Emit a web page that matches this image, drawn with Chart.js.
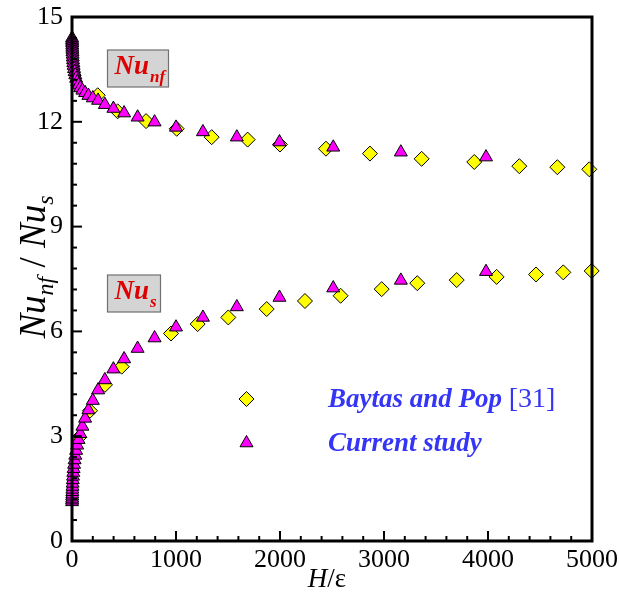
<!DOCTYPE html>
<html>
<head>
<meta charset="utf-8">
<title>Nu_nf / Nu_s vs H/ε</title>
<script src="https://cdn.jsdelivr.net/npm/chart.js@4.4.0/dist/chart.umd.min.js"></script>
<style>
  html, body { margin: 0; padding: 0; background: #ffffff; }
</style>
</head>
<body>
<canvas id="chart" width="619" height="597"></canvas>
<script>
// --- Data ---
// Current study: H/ε sampled on a log grid, both Nusselt numbers
const currentX = [1, 1.26, 1.58, 2, 2.51, 3.16, 3.98, 5.01, 6.31, 7.94, 10, 12.6, 15.8, 20, 25.1, 31.6,
  39.8, 50.1, 63.1, 79.4, 100, 126, 158, 200, 251, 316, 398, 501, 631, 794, 1000, 1259, 1585, 1995,
  2512, 3162, 3981];
const currentNuNf = [14.40, 14.35, 14.30, 14.25, 14.19, 14.13, 14.07, 14.00, 13.93, 13.85, 13.77, 13.69,
  13.61, 13.52, 13.43, 13.34, 13.24, 13.14, 13.05, 12.97, 12.90, 12.83, 12.75, 12.68, 12.61, 12.49,
  12.38, 12.25, 12.13, 11.99, 11.84, 11.71, 11.56, 11.42, 11.27, 11.13, 10.99];
const currentNuS = [1.12, 1.17, 1.22, 1.28, 1.34, 1.41, 1.48, 1.56, 1.65, 1.75, 1.85, 1.96, 2.07, 2.19,
  2.32, 2.45, 2.59, 2.74, 2.90, 3.07, 3.28, 3.51, 3.75, 4.02, 4.32, 4.61, 4.92, 5.21, 5.51, 5.81,
  6.12, 6.40, 6.70, 6.97, 7.24, 7.46, 7.71];

// Baytas and Pop [31]
const baytasNfX = [247, 439, 712, 1007, 1343, 1689, 2000, 2442, 2865, 3362, 3868, 4301, 4667, 4974];
const baytasNuNf = [12.76, 12.30, 12.02, 11.80, 11.56, 11.49, 11.35, 11.23, 11.09, 10.94, 10.85, 10.73,
  10.70, 10.64];
const baytasSX = [70, 173, 317, 478, 952, 1208, 1503, 1872, 2240, 2583, 2978, 3320, 3699, 4083, 4462,
  4724, 4997];
const baytasNuS = [2.97, 3.73, 4.47, 4.99, 5.94, 6.21, 6.40, 6.64, 6.87, 7.02, 7.21, 7.38, 7.47, 7.56,
  7.63, 7.69, 7.73];

// Axis ticks
const xTicks = [0, 1000, 2000, 3000, 4000, 5000];
const yTicks = [0, 3, 6, 9, 12, 15];
const minorPerMajor = 5;

const SERIF = '"Liberation Serif", "Times New Roman", serif';
const LABEL_BLUE = '#3535f5';
const NOTE_RED = '#dd0000';

function toPoints(xs, ys) {
  return xs.map((x, i) => ({ x: x, y: ys[i] }));
}

const triangleStyle = {
  pointStyle: 'triangle', pointRadius: 7.5, pointBackgroundColor: '#ff00ff',
  pointBorderColor: '#000000', pointBorderWidth: 1, showLine: false, clip: false, order: 0
};
const diamondStyle = {
  pointStyle: 'rectRot', pointRadius: 7.5, pointBackgroundColor: '#ffff00',
  pointBorderColor: '#000000', pointBorderWidth: 1, showLine: false, clip: false, order: 1
};

// draws a run of text pieces (for subscripts); returns total width
function drawRich(ctx, parts, x, y, measureOnly) {
  let cx = x;
  parts.forEach(p => {
    ctx.font = p.font;
    if (!measureOnly) ctx.fillText(p.text, cx, y + (p.dy || 0));
    cx += ctx.measureText(p.text).width + (p.gap || 0);
  });
  return cx - x;
}

// frame, inward ticks, axis titles, note boxes and legend
const decorations = {
  id: 'decorations',
  afterDatasetsDraw(chart) {
    const ctx = chart.ctx;
    const xs = chart.scales.x, ys = chart.scales.y;
    const a = chart.chartArea;
    ctx.save();

    // inward ticks on left and bottom
    ctx.strokeStyle = '#000';
    ctx.lineWidth = 2;
    const xStep = (xTicks[1] - xTicks[0]) / minorPerMajor;
    for (let v = xs.min; v <= xs.max + 1e-6; v += xStep) {
      const major = xTicks.some(t => Math.abs(t - v) < 1e-6);
      const px = xs.getPixelForValue(v);
      ctx.beginPath();
      ctx.moveTo(px, a.bottom);
      ctx.lineTo(px, a.bottom - (major ? 10 : 5));
      ctx.stroke();
    }
    const yStep = (yTicks[1] - yTicks[0]) / minorPerMajor;
    for (let v = ys.min; v <= ys.max + 1e-6; v += yStep) {
      const major = yTicks.some(t => Math.abs(t - v) < 1e-6);
      const py = ys.getPixelForValue(v);
      ctx.beginPath();
      ctx.moveTo(a.left, py);
      ctx.lineTo(a.left + (major ? 10 : 5), py);
      ctx.stroke();
    }

    // frame
    ctx.lineWidth = 3;
    ctx.strokeRect(a.left, a.top, a.right - a.left, a.bottom - a.top);

    // y title: Nu_nf / Nu_s
    ctx.fillStyle = '#000';
    ctx.textBaseline = 'alphabetic';
    ctx.textAlign = 'left';
    const big = 'italic 37px ' + SERIF, small = 'italic 24px ' + SERIF, mid = '37px ' + SERIF;
    const yTitle = [
      { text: 'Nu', font: big },
      { text: 'nf', font: small, dy: 8 },
      { text: ' / ', font: mid },
      { text: 'Nu', font: big },
      { text: 's', font: small, dy: 8 }
    ];
    ctx.save();
    ctx.translate(45, (a.top + a.bottom) / 2 - 12);
    ctx.rotate(-Math.PI / 2);
    const w = drawRich(ctx, yTitle, 0, 0, true);
    drawRich(ctx, yTitle, -w / 2, 0);
    ctx.restore();

    // x title: H/ε
    const xTitle = [
      { text: 'H', font: 'italic 27px ' + SERIF },
      { text: '/ε', font: '27px ' + SERIF }
    ];
    const xw = drawRich(ctx, xTitle, 0, 0, true);
    drawRich(ctx, xTitle, (a.left + a.right) / 2 - xw / 2 - 5, 587);

    // note boxes
    function noteBox(x, y, bw, bh, sub) {
      ctx.fillStyle = '#d4d4d4';
      ctx.fillRect(x, y, bw, bh);
      ctx.strokeStyle = '#707070';
      ctx.lineWidth = 1.2;
      ctx.strokeRect(x, y, bw, bh);
      ctx.fillStyle = NOTE_RED;
      drawRich(ctx, [
        { text: 'Nu', font: 'bold italic 27px ' + SERIF, gap: 1 },
        { text: sub, font: 'bold italic 17px ' + SERIF, dy: 8 }
      ], x + 7, y + 24);
    }
    noteBox(107.5, 50, 61, 37, 'nf');
    noteBox(107.5, 275, 53, 37, 's');

    // legend
    const legend = [
      { style: diamondStyle, y: 399, parts: [
        { text: 'Baytas and Pop ', font: 'bold italic 27px ' + SERIF },
        { text: '[31]', font: '28px ' + SERIF }
      ] },
      { style: triangleStyle, y: 443, parts: [
        { text: 'Current study', font: 'bold italic 27px ' + SERIF }
      ] }
    ];
    legend.forEach(item => {
      ctx.fillStyle = item.style.pointBackgroundColor;
      ctx.strokeStyle = item.style.pointBorderColor;
      ctx.lineWidth = 1;
      Chart.helpers.drawPoint(ctx, {
        pointStyle: item.style.pointStyle, radius: 7.5, rotation: 0, borderWidth: 1
      }, 246.5, item.y);
      ctx.fillStyle = LABEL_BLUE;
      drawRich(ctx, item.parts, 328, item.y + 8);
    });

    ctx.restore();
  }
};

new Chart(document.getElementById('chart'), {
  type: 'scatter',
  data: {
    datasets: [
      Object.assign({ label: 'Current study', data: toPoints(currentX, currentNuS) }, triangleStyle),
      Object.assign({ label: 'Current study', data: toPoints(currentX, currentNuNf) }, triangleStyle),
      Object.assign({ label: 'Baytas and Pop [31]', data: toPoints(baytasSX, baytasNuS) }, diamondStyle),
      Object.assign({ label: 'Baytas and Pop [31]', data: toPoints(baytasNfX, baytasNuNf) }, diamondStyle)
    ]
  },
  options: {
    responsive: false,
    animation: false,
    events: [],
    layout: { padding: { left: 0, top: 17, right: 27, bottom: 0 } },
    plugins: { legend: { display: false }, tooltip: { enabled: false } },
    scales: {
      x: {
        type: 'linear',
        min: xTicks[0],
        max: xTicks[xTicks.length - 1],
        afterBuildTicks: s => { s.ticks = xTicks.map(v => ({ value: v })); },
        afterFit: s => { s.height = 56; s.paddingLeft = 0; s.paddingRight = 0; },
        grid: { display: false, drawTicks: false },
        border: { display: false },
        ticks: {
          color: '#000', padding: 4, maxRotation: 0,
          font: { family: SERIF, size: 26 },
          callback: v => String(v)
        }
      },
      y: {
        type: 'linear',
        min: yTicks[0],
        max: yTicks[yTicks.length - 1],
        afterBuildTicks: s => { s.ticks = yTicks.map(v => ({ value: v })); },
        afterFit: s => { s.width = 72; s.paddingTop = 0; s.paddingBottom = 0; },
        grid: { display: false, drawTicks: false },
        border: { display: false },
        ticks: {
          color: '#000', padding: 9,
          font: { family: SERIF, size: 26 },
          callback: v => String(v)
        }
      }
    }
  },
  plugins: [decorations]
});
</script>
</body>
</html>
